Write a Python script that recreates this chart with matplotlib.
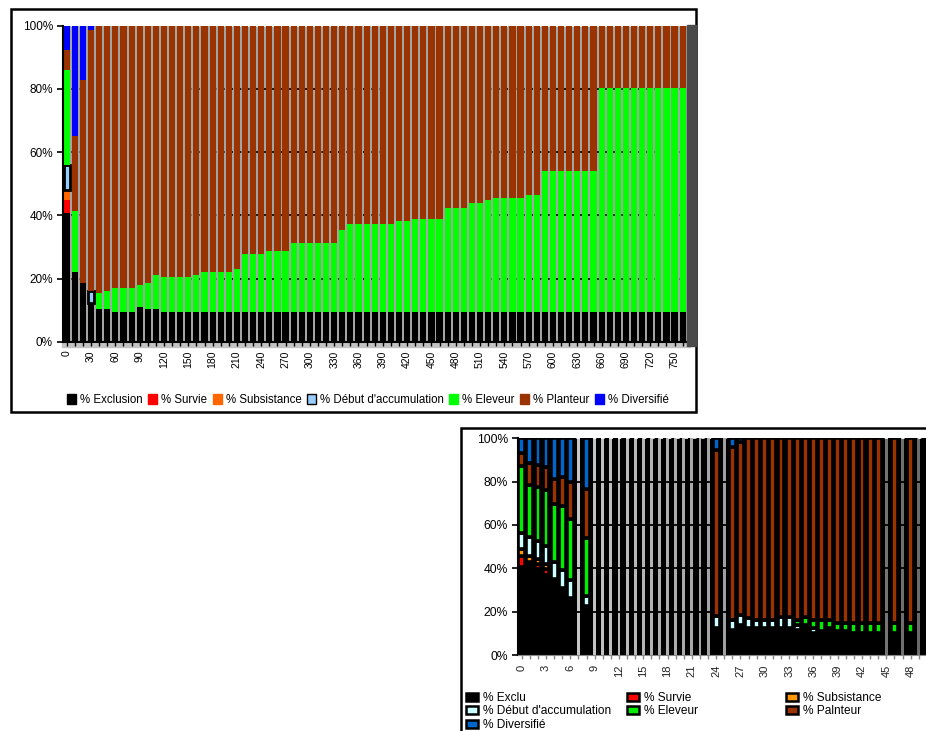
import matplotlib
matplotlib.use("Agg")
import matplotlib.pyplot as plt
from matplotlib.patches import Rectangle, Patch
import numpy as np

plt.rcParams['font.family'] = ['Liberation Sans', 'DejaVu Sans']

# ---- top chart: one bar every 10 units, 0..760 ----
top_cats = list(range(0, 770, 10))

top_excl = [40.7, 22.0, 18.7, 12.4, 10.3, 10.3, 9.4, 9.4, 9.4, 11.2,
            10.3, 10.3, 9.4, 9.4, 9.4, 9.4, 9.4, 9.4, 9.4, 9.4,
            9.4, 9.4, 9.4, 9.4, 9.4, 9.4, 9.4, 9.4, 9.4, 9.4,
            9.4, 9.4, 9.4, 9.4, 9.4, 9.4, 9.4, 9.4, 9.4, 9.4,
            9.4, 9.4, 9.4, 9.4, 9.4, 9.4, 9.4, 9.4, 9.4, 9.4,
            9.4, 9.4, 9.4, 9.4, 9.4, 9.4, 9.4, 9.4, 9.4, 9.4,
            9.4, 9.4, 9.4, 9.4, 9.4, 9.4, 9.4, 9.4, 9.4, 9.4,
            9.4, 9.4, 9.4, 9.4, 9.4, 9.4, 9.4]
top_surv = [4.2, 0, 0, 0] + [0] * 73
top_subs = [3.1, 0, 0, 0] + [0] * 73
top_debut = [7.9, 0, 0, 3.8] + [0] * 73
top_elev = [30.1, 19.4, 0, 0, 5.1, 5.9, 7.7, 7.7, 7.7, 6.7,
            8.4, 10.9, 11.0, 11.0, 11.0, 11.0, 11.8, 12.7, 12.7, 12.7,
            12.7, 13.6, 18.4, 18.4, 18.4, 19.3, 19.3, 19.3, 21.9, 21.9,
            21.9, 21.9, 21.9, 21.9, 26.1, 27.9, 27.9, 27.9, 27.9, 27.9,
            27.9, 28.7, 28.7, 29.5, 29.5, 29.5, 29.5, 32.9, 32.9, 32.9,
            34.5, 34.5, 35.4, 36.2, 36.2, 36.2, 36.2, 37.0, 37.0, 44.6,
            44.6, 44.6, 44.6, 44.6, 44.6, 44.6, 70.7, 70.7, 70.7, 70.7,
            70.7, 70.7, 70.7, 70.7, 70.7, 70.7, 70.7]
top_plant = [6.3, 23.6, 64.1, 82.4, 84.6, 83.8, 82.9, 82.9, 82.9, 82.1,
             81.3, 78.8, 79.6, 79.6, 79.6, 79.6, 78.8, 77.9, 77.9, 77.9,
             77.9, 77.0, 72.2, 72.2, 72.2, 71.3, 71.3, 71.3, 68.7, 68.7,
             68.7, 68.7, 68.7, 68.7, 64.5, 62.7, 62.7, 62.7, 62.7, 62.7,
             62.7, 61.9, 61.9, 61.1, 61.1, 61.1, 61.1, 57.7, 57.7, 57.7,
             56.1, 56.1, 55.2, 54.4, 54.4, 54.4, 54.4, 53.6, 53.6, 46.0,
             46.0, 46.0, 46.0, 46.0, 46.0, 46.0, 19.9, 19.9, 19.9, 19.9,
             19.9, 19.9, 19.9, 19.9, 19.9, 19.9, 19.9]
top_div = [7.7, 35.0, 17.2, 1.4] + [0] * 73

top_names = ['% Exclusion', '% Survie', '% Subsistance', "% Début d'accumulation",
             '% Eleveur', '% Planteur', '% Diversifié']
top_colors = ['#000000', '#ff0000', '#ff6600', '#99ccff', '#00ff00', '#993300', '#0000ff']

# ---- bottom chart: categories 0..49 ----
bot_cats = list(range(50))

bot_excl = [40.8, 43.1, 39.7, 37.1, 34.9, 31.1, 26.5, 0, 22.6, 0,
            0, 0, 0, 0, 0, 0, 0, 0, 0, 0,
            0, 0, 0, 0, 12.6, 0, 11.5, 13.7, 12.6, 12.5,
            12.5, 12.5, 12.5, 12.5, 11.4, 13.7, 10.0, 11.2, 12.6, 11.2,
            11.2, 10.0, 10.0, 10.0, 10.0, 0, 10.0, 0, 10.0, 0]
bot_surv = [4.7, 0, 2.3, 2.4] + [0] * 46
bot_subs = [3.4, 2.4, 2.3, 2.3] + [0] * 46
bot_debut = [7.6, 8.8, 8.3, 8.5, 8.2, 8.3, 8.0, 0, 4.5, 0,
             0, 0, 0, 0, 0, 0, 0, 0, 0, 0,
             0, 0, 0, 0, 5.2, 0, 4.7, 4.6, 4.3, 3.5,
             3.5, 3.5, 4.9, 4.9, 2.3, 0, 2.3, 0, 0, 0,
             0, 0, 0, 0, 0, 0, 0, 0, 0, 0]
bot_elev = [30.9, 24.3, 24.9, 26.0, 26.7, 29.4, 28.1, 0, 26.9, 0,
            0, 0, 0, 0, 0, 0, 0, 0, 0, 0,
            0, 0, 0, 0, 0, 0, 0, 0, 0, 0,
            0, 0, 0, 0, 2.3, 3.7, 3.7, 4.8, 3.4, 3.6,
            3.6, 4.8, 4.8, 4.8, 4.8, 0, 4.8, 0, 4.8, 0]
bot_plant = [6.0, 9.9, 10.0, 10.6, 11.3, 13.5, 17.4, 0, 22.5, 0,
             0, 0, 0, 0, 0, 0, 0, 0, 0, 0,
             0, 0, 0, 0, 77.0, 0, 79.8, 80.2, 83.1, 84.0,
             84.0, 84.0, 82.6, 82.6, 84.0, 82.6, 84.0, 84.0, 84.0, 85.2,
             85.2, 85.2, 85.2, 85.2, 85.2, 0, 85.2, 0, 85.2, 0]
bot_div = [6.6, 11.5, 12.5, 13.1, 18.9, 17.7, 20.0, 0, 23.5, 0,
           0, 0, 0, 0, 0, 0, 0, 0, 0, 0,
           0, 0, 0, 0, 5.2, 0, 4.0, 1.5, 0, 0] + [0] * 20

bot_names = ['% Exclu', '% Survie', '% Subsistance', "% Début d'accumulation",
             '% Eleveur', '% Palnteur', '% Diversifié']
bot_colors = ['#000000', '#ff0000', '#ff9900', '#ccffff', '#00ee00', '#993300', '#0066cc']

W, H = 926, 731
fig = plt.figure(figsize=(W / 100, H / 100), dpi=100)


def box(x0, y0, x1, y1):
    # pixel box (top-left origin) -> figure fraction rect
    return [x0 / W, 1 - y1 / H, (x1 - x0) / W, (y1 - y0) / H]


# ================= top chart =================
ax1 = fig.add_axes(box(62.7, 25.5, 686.7, 342))
ax1.set_facecolor('#a4a4a4')
x1 = np.arange(len(top_cats))
bottom = np.zeros(len(x1))
top_series = [top_excl, top_surv, top_subs, top_debut, top_elev, top_plant, top_div]
for vals, name, col in zip(top_series, top_names, top_colors):
    vals = np.array(vals, dtype=float)
    m = vals > 0
    if name.startswith('% Début'):
        ax1.bar(x1[m], vals[m], 0.76, bottom=bottom[m], color=col,
                edgecolor='black', linewidth=2.0, zorder=2)
    else:
        ax1.bar(x1[m], vals[m], 0.76, bottom=bottom[m], color=col,
                edgecolor='none', zorder=2)
    bottom += vals

for yv in [20, 40, 60, 80]:
    ax1.axhline(yv, color='black', lw=1.2, ls=(0, (2, 3)), zorder=1)
ax1.axhline(100, color='white', lw=1.2, ls=(0, (2, 3)), zorder=1)

ax1.set_xlim(-0.5, len(top_cats) - 0.5)
ax1.set_ylim(0, 100)
ax1.set_yticks([0, 20, 40, 60, 80, 100])
ax1.set_yticklabels([f'{v}%' for v in [0, 20, 40, 60, 80, 100]], fontsize=8.5)
ax1.set_xticks(x1[::3])
ax1.set_xticklabels([str(c) for c in top_cats[::3]], rotation=90, fontsize=7.5)
ax1.set_xticks(x1, minor=True)
ax1.tick_params(axis='y', length=4, width=1.2, pad=3)
ax1.tick_params(axis='x', which='both', length=3, width=1, pad=3)
for s in ['top', 'right']:
    ax1.spines[s].set_visible(False)
ax1.spines['left'].set_linewidth(1.5)
ax1.spines['bottom'].set_linewidth(1.5)

# floor and right wall of the old 3D-ish frame
fig.patches.append(Rectangle((62 / W, 1 - 347 / H), (690 - 62) / W, 5 / H,
                             transform=fig.transFigure, color='#c4c4c4', zorder=-1))
fig.patches.append(Rectangle((687 / W, 1 - 346 / H), 9 / W, (346 - 25) / H,
                             transform=fig.transFigure, color='#4a4a4a', zorder=3))
fig.patches.append(Rectangle((11 / W, 1 - 412 / H), 685 / W, 403 / H, fill=False,
                             transform=fig.transFigure, edgecolor='black', lw=1.8))

h1 = [Patch(facecolor=c, edgecolor='black' if i == 3 else c, lw=1.0)
      for i, c in enumerate(top_colors)]
fig.legend(h1, top_names, loc='center', bbox_to_anchor=(368 / W, 1 - 400 / H), ncol=7,
           fontsize=8.3, frameon=False, handlelength=0.8, handleheight=0.9,
           handletextpad=0.35, columnspacing=0.45, borderpad=0)

# ================= bottom chart =================
ax2 = fig.add_axes(box(517.7, 438.3, 926, 655))
ax2.set_facecolor('black')
x2 = np.arange(len(bot_cats))
bot_series = [bot_excl, bot_surv, bot_subs, bot_debut, bot_elev, bot_plant, bot_div]
totals = np.sum(np.array(bot_series, dtype=float), axis=0)
empty = totals == 0
shade = np.interp(x2[empty], [7, 49], [0.78, 0.42])
ax2.bar(x2[empty], 100, 0.36, color=[(g, g, g) for g in shade], zorder=0.5)
for yv in [20, 40, 60, 80]:
    ax2.axhline(yv, color='black', lw=1.3, zorder=1)
ax2.axhline(100, color='white', lw=1.2, ls=(0, (2, 3)), zorder=1)

bottom = np.zeros(len(x2))
for vals, col in zip(bot_series, bot_colors):
    vals = np.array(vals, dtype=float)
    m = vals > 0
    ax2.bar(x2[m], vals[m], 0.85, bottom=bottom[m], color=col,
            edgecolor='black', linewidth=2.6, zorder=2)
    bottom += vals

ax2.set_xlim(-0.5, 49.9)
ax2.set_ylim(0, 100)
ax2.set_yticks([0, 20, 40, 60, 80, 100])
ax2.set_yticklabels([f'{v}%' for v in [0, 20, 40, 60, 80, 100]], fontsize=8.7)
ax2.set_xticks(x2[::3])
ax2.set_xticklabels([str(c) for c in bot_cats[::3]], rotation=90, fontsize=8, color='#222222')
ax2.set_xticks(x2, minor=True)
ax2.tick_params(axis='y', length=4, width=1.2, pad=3)
ax2.tick_params(axis='x', which='both', length=3, width=1, color='#888888', pad=4)
for s in ['top', 'right']:
    ax2.spines[s].set_visible(False)
ax2.spines['left'].set_linewidth(1.5)
ax2.spines['bottom'].set_color('#888888')

fig.patches.append(Rectangle((461 / W, 1 - 760 / H), 500 / W, (760 - 428) / H, fill=False,
                             transform=fig.transFigure, edgecolor='black', lw=1.8))

h2 = [Patch(facecolor=c, edgecolor='black', lw=1.8) for c in bot_colors]
cols = [[0, 3, 6], [1, 4], [2, 5]]
col_x = [466, 627, 786]
for idx, xp in zip(cols, col_x):
    fig.legend([h2[i] for i in idx], [bot_names[i] for i in idx], loc='upper left',
               bbox_to_anchor=(xp / W, 1 - 692 / H), ncol=1, fontsize=8.6, frameon=False,
               handlelength=1.0, handleheight=0.7, handletextpad=0.4, labelspacing=0.12,
               borderpad=0, borderaxespad=0)

fig.savefig('out.png', dpi=100)
